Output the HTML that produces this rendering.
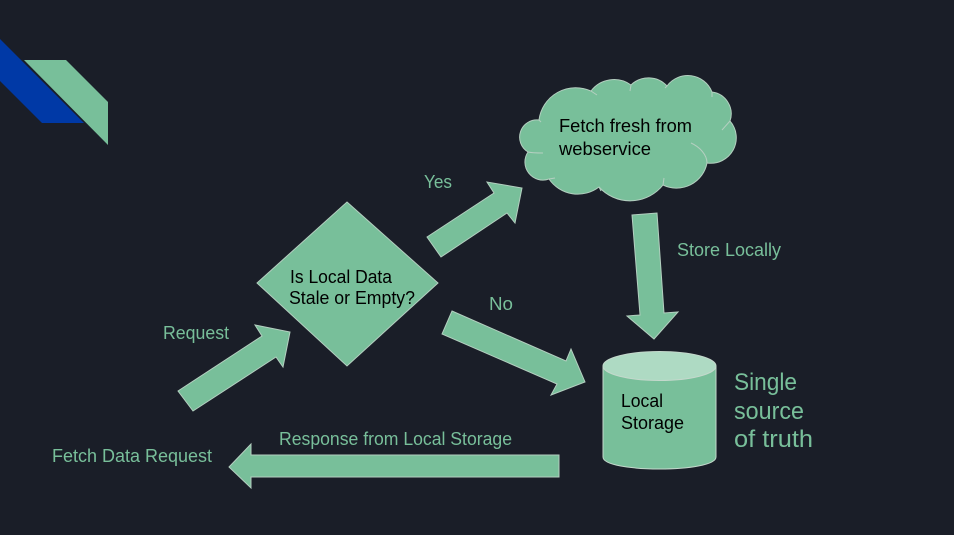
<!DOCTYPE html>
<html><head><meta charset="utf-8"><style>
html,body{margin:0;padding:0;background:#1a1e28;width:954px;height:535px;overflow:hidden}
svg{display:block}
text{font-family:"Liberation Sans",sans-serif}
.b{fill:#000;font-size:18.5px}
.g{fill:#78bf9a;font-size:18.5px}
.s{fill:#78bf9a;font-size:24.5px}
.a{fill:#78bf9a;stroke:#b4cfc0;stroke-width:1}
</style></head><body>
<svg width="954" height="535" viewBox="0 0 954 535" xmlns="http://www.w3.org/2000/svg">
<rect width="954" height="535" fill="#1a1e28"/>
<polygon points="0,39 84,123 42,123 0,81" fill="#0039a6"/>
<polygon points="24,60 66,60 108,102 108,145" fill="#78bf9a"/>

<path class="a" d="M539,120 A37,37 0 0 1 591,91 A29,29 0 0 1 631,85 A25,25 0 0 1 667,86 A26,26 0 0 1 712,92 A22,22 0 0 1 730,121 A25.5,25.5 0 0 1 707,163 A31,31 0 0 1 663,185 A42,42 0 0 1 599,187 A35,35 0 0 1 549,179 A18,18 0 0 1 528,152 A17.3,17.3 0 0 1 539,120 Z"/>
<path d="M591,91 L597,95 M631,85 L630,91 M667,86 L665,88 M712,92 L712,97 M730,121 L722,130 M707,163 C707,155 700,147 691,143 M663,185 L664,178 M599,187 L601,191 M549,179 L555,178 M528,152 C532,153 538,153 543,153 M539,120 L541,122" fill="none" stroke="#b4cfc0" stroke-width="1"/>

<polygon class="a" points="347,202 438,283 347,366 257,283"/>
<polygon class="a" points="178,391 262,336 255,325 290,332 283,367 276,357 193,411"/>
<polygon class="a" points="427,237 494,193 487,182 522,188 515,223 507,213 441,257"/>
<polygon class="a" points="452,311 566,361 571,349 585,382 551,395 557,384 442,334"/>
<polygon class="a" points="632,215 657,213 664,313 678,312 654,339 627,316 640,315"/>
<polygon class="a" points="559,455 251,455 251,444 229,467 251,488 251,477 559,477"/>

<path d="M603,366 V457 C603,473 716,473 716,457 V366 Z" fill="#78bf9a" stroke="#c4d8cc" stroke-width="1"/>
<ellipse cx="659.5" cy="366" rx="56.5" ry="14.5" fill="#aedac3" stroke="#c4d8cc" stroke-width="1"/>

<text class="b" x="559" y="132" textLength="133" lengthAdjust="spacingAndGlyphs">Fetch fresh from</text>
<text class="b" x="559" y="155" textLength="92" lengthAdjust="spacingAndGlyphs">webservice</text>
<text class="b" x="290" y="283" textLength="102" lengthAdjust="spacingAndGlyphs">Is Local Data</text>
<text class="b" x="289" y="304" textLength="126" lengthAdjust="spacingAndGlyphs">Stale or Empty?</text>
<text class="b" x="621" y="407" textLength="42" lengthAdjust="spacingAndGlyphs">Local</text>
<text class="b" x="621" y="429" textLength="63" lengthAdjust="spacingAndGlyphs">Storage</text>
<text class="g" x="424" y="188" textLength="28" lengthAdjust="spacingAndGlyphs">Yes</text>
<text class="g" x="677" y="256" textLength="104" lengthAdjust="spacingAndGlyphs">Store Locally</text>
<text class="g" x="489" y="310" textLength="24" lengthAdjust="spacingAndGlyphs">No</text>
<text class="g" x="163" y="339" textLength="66" lengthAdjust="spacingAndGlyphs">Request</text>
<text class="g" x="52" y="462" textLength="160" lengthAdjust="spacingAndGlyphs">Fetch Data Request</text>
<text class="g" x="279" y="445" textLength="233" lengthAdjust="spacingAndGlyphs">Response from Local Storage</text>
<text class="s" x="734" y="390" textLength="63" lengthAdjust="spacingAndGlyphs">Single</text>
<text class="s" x="734" y="419" textLength="70" lengthAdjust="spacingAndGlyphs">source</text>
<text class="s" x="734" y="447" textLength="79" lengthAdjust="spacingAndGlyphs">of truth</text>
</svg>
</body></html>
